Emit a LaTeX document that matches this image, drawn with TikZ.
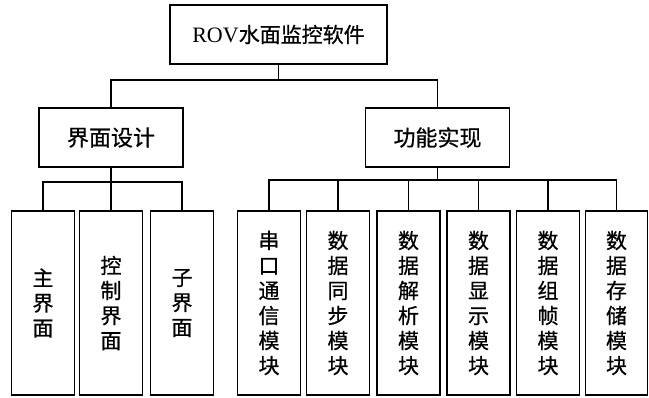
\documentclass[tikz,border=0pt]{standalone}
\usepackage{fontspec}
\setmainfont{Liberation Serif}
\newfontfamily\cjk[FakeBold=0.7]{Noto Sans CJK SC}
\begin{document}
\begin{tikzpicture}[x=1pt,y=-1pt,
  box/.style={draw=black,line width=1.4pt,inner sep=0pt,anchor=center},
  topbox/.style={box,minimum width=217pt,minimum height=59pt,font=\fontsize{21}{24}\selectfont},
  midbox/.style={box,minimum width=144pt,minimum height=59pt,font=\cjk\fontsize{22}{25}\selectfont},
  leaf/.style={box,minimum width=63pt,minimum height=184pt,align=center,font=\cjk\fontsize{21}{25}\selectfont},
  conn/.style={line width=1.2pt}]
\useasboundingbox (0,0) rectangle (649,398);
\coordinate (y1) at (0,80);
\coordinate (y2) at (0,182);
\coordinate (y3) at (0,180);
\node[topbox] (top) at (278.5,34.5) {\fontsize{22}{24}\selectfont ROV{\cjk\fontsize{21}{24}\selectfont 水面监控软件}};
\node[midbox] (ui) at (111,137.5) {界面设计};
\node[midbox] (fn) at (437.5,137.5) {功能实现};
\node[leaf] (l1) at (43,303) {主\\界\\面};
\node[leaf] (l2) at (111,303) {控\\制\\界\\面};
\node[leaf] (l3) at (182,303) {子\\界\\面};
\node[leaf] (r1) at (269,303) {串\\口\\通\\信\\模\\块};
\node[leaf] (r2) at (338,303) {数\\据\\同\\步\\模\\块};
\node[leaf] (r3) at (408.5,303) {数\\据\\解\\析\\模\\块};
\node[leaf] (r4) at (478.5,303) {数\\据\\显\\示\\模\\块};
\node[leaf] (r5) at (548,303) {数\\据\\组\\帧\\模\\块};
\node[leaf,minimum width=62pt] (r6) at (616.5,303) {数\\据\\存\\储\\模\\块};
% connectors
\draw[conn] (top.south) -- (top.south |- y1);
\draw[conn] (ui.north) |- (top.south |- y1) -| (fn.north);
\draw[conn] (ui.south) -- (l2.north);
\draw[conn] (l1.north) |- (l2.north |- y2) -| (l3.north);
\draw[conn] (fn.south) -- (fn.south |- y3);
\draw[conn] (r1.north) |- (fn.south |- y3) -| (r6.north);
\foreach \n in {r2,r3,r4,r5} \draw[conn] (\n.north) -- (\n.north |- y3);
\end{tikzpicture}
\end{document}
